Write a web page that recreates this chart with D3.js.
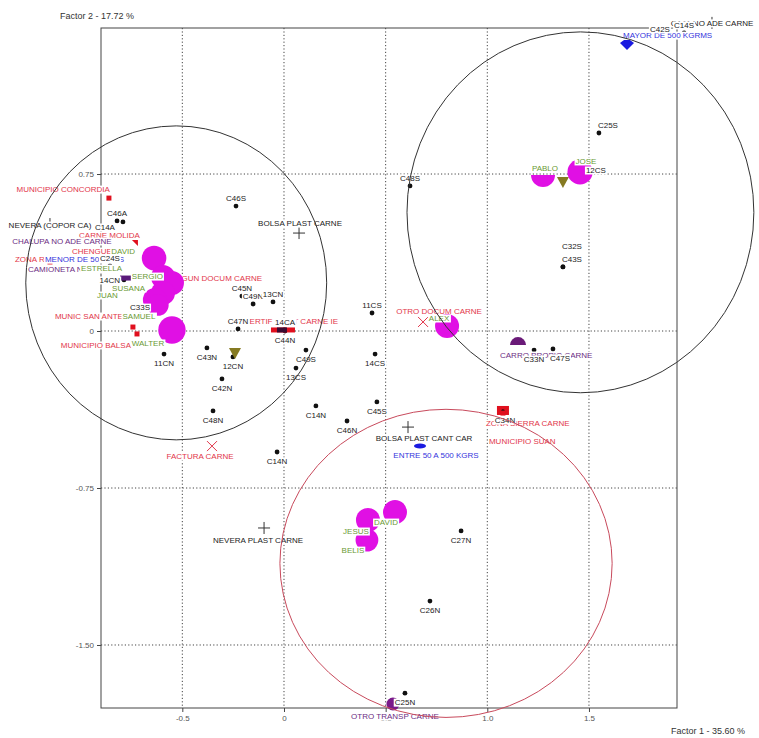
<!DOCTYPE html>
<html><head><meta charset="utf-8">
<script src="https://cdn.jsdelivr.net/npm/d3@7"></script>
<style>
html,body{margin:0;padding:0;background:#fff;}
svg{display:block;font-family:"Liberation Sans",Arial,sans-serif;}
</style></head><body>
<svg id="chart" width="759" height="738"></svg>
<script>
// ---------------- DATA ----------------
const xTicks = [-0.5, 0, 0.5, 1.0, 1.5];
const xTickLabels = ["-0.5", "0", "0.5", "1.0", "1.5"];
const yTicks = [0.75, 0, -0.75, -1.5];
const yTickLabels = ["0.75", "0", "-0.75", "-1.50"];
const axisTitleX = "Factor 1  -  35.60 %";
const axisTitleY = "Factor 2  -  17.72 %";

// supplementary points (black dots): name, F1, F2
const dotPoints = [
  ["C46S", -0.236, 0.597], ["C46A", -0.821, 0.526], ["C14A", -0.792, 0.521],
  ["C24S", -0.856, 0.311], ["14CN", -0.787, 0.244], ["C33S", -0.708, 0.076],
  ["11CN", -0.590, -0.110], ["C45N", -0.207, 0.167], ["C49N", -0.152, 0.129],
  ["13CN", -0.054, 0.139], ["C47N", -0.226, 0.010], ["14CA", 0.005, 0.005],
  ["C44N", 0.005, 0.000], ["C43N", -0.379, -0.081], ["12CN", -0.251, -0.124],
  ["C42N", -0.305, -0.229], ["C48N", -0.349, -0.382], ["C49S", 0.108, -0.091],
  ["13CS", 0.059, -0.177], ["14CS", 0.448, -0.110], ["11CS", 0.433, 0.086],
  ["C45S", 0.457, -0.339], ["C14N", 0.157, -0.358], ["C46N", 0.310, -0.430],
  ["C14N", -0.034, -0.578], ["C27N", 0.871, -0.955], ["C26N", 0.718, -1.290],
  ["C25N", 0.595, -1.730], ["C48S", 0.620, 0.693], ["C25S", 1.549, 0.946],
  ["12CS", 1.490, 0.731], ["C43S", 1.372, 0.306], ["C32S", 1.372, 0.306],
  ["C34N", 1.087, -0.382], ["C33N", 1.230, -0.091], ["C47S", 1.323, -0.086],
  ["C42S", 1.849, 1.405], ["C14S", 1.968, 1.424]
];
const dotLabelSide = ["n","n","sw","n","w","n","s","n","n","n","n","n","s","s","s","s","s","s",
  "s","s","n","s","s","s","s","s","s","s","n","ne","ne","ne","ne2","s","s","se","n","n"];

// active categories: name, F1, F2
const redCategories = [
  ["MUNICIPIO CONCORDIA", -0.861, 0.635], ["CARNE MOLIDA", -0.733, 0.420],
  ["CHENGUE CAR", -0.797, 0.382], ["ZONA RURAL CARNE", -1.151, 0.330],
  ["MUNIC SAN ANTERO", -0.743, 0.019], ["MUNICIPIO BALSA", -0.723, -0.014],
  ["NINGUN DOCUM CARNE", -0.521, 0.239], ["CERTIF SANIT CARNE IE", -0.005, 0.005],
  ["OTRO DOCUM CARNE", 0.684, 0.048], ["FACTURA CARNE", -0.354, -0.545],
  ["ZONA SIERRA CARNE", 1.077, -0.382], ["MUNICIPIO SUAN", 1.077, -0.392]
];
const purpleCategories = [
  ["CHALUPA NO ADE CARNE", -1.092, 0.430], ["CAMIONETA NO ADE", -0.777, 0.253],
  ["CARRO PROPIO CARNE", 1.151, -0.067], ["OTRO TRANSP CARNE", 0.536, -1.782]
];
const blueCategories = [
  ["MAYOR DE 500 KGRMS", 1.687, 1.366], ["ENTRE 50 A 500 KGRS", 0.669, -0.549],
  ["MENOR DE 50 KGRS", -1.053, 0.344]
];
const packCategories = [
  ["NEVERA (COPOR CA)", -1.151, 0.511], ["BOLSA PLAST CARNE", 0.074, 0.468],
  ["BOLSA PLAST CANT CAR", 0.610, -0.459], ["NEVERA PLAST CARNE", -0.098, -0.941],
  ["CAJA NO ADE CARNE", 2.105, 1.472]
];
const oliveCategories = [["", -0.241, -0.105], ["", 1.372, 0.712]];

// individuals (magenta): name, F1, F2, weight
const persons = [
  ["DAVID", -0.639, 0.349, 1.05], ["ESTRELLA", -0.595, 0.258, 1.0], ["SERGIO", -0.551, 0.229, 1.0],
  ["SUSANA", -0.595, 0.182, 1.0], ["JUAN", -0.635, 0.148, 1.0], ["SAMUEL", -0.620, 0.124, 0.8],
  ["WALTER", -0.551, 0.005, 1.3], ["ALEX", 0.802, 0.024, 1.0], ["PABLO", 1.274, 0.745, 1.0],
  ["JOSE", 1.456, 0.760, 1.1], ["DAVID", 0.546, -0.865, 1.0], ["JESUS", 0.413, -0.903, 1.0],
  ["BELIS", 0.408, -0.999, 0.9]
];

// cluster ellipses: centre F1, centre F2, radius F1, radius F2
const clusters = [[-0.53, 0.23, 0.74, 0.75], [1.458, 0.567, 0.853, 0.862], [0.797, -1.11, 0.817, 0.736]];

// ---------------- LAYOUT / STYLE ----------------
const svg = d3.select("#chart");
const x = d3.scaleLinear().domain([-0.9, 1.933]).range([101, 677]);
const y = d3.scaleLinear().domain([-1.801, 1.4476]).range([708, 28]);
const FS = 8;
const C = {red: "#e2364a", redMk: "#e0101e", purple: "#6b2d83", blue: "#3434dc", green: "#6a9a34",
  magenta: "#e010e4", olive: "#857a22", text: "#222"};

const sideOff = {n: [0, -5, "middle"], s: [0, 12, "middle"], w: [-4, 3, "end"], sw: [-8, 8, "end"],
  ne: [-1, -5, "start"], ne2: [-1, -18, "start"], se: [-3, 12, "start"]};
const redNudge = [[1,-6,"end"],[5,-5,"end"],[-50,3,"start"],[-35,0,"start"],[2,-8,"end"],[-6,14,"end"],
  [84,0,"end"],[8,-6,"middle"],[16,-7,"middle"],[-12,14,"middle"],[-17,15,"start"],[-14,31,"start"]];
const redKind = ["sq","flag","sq","sq","sq","sq","sq","bar","y","y","big","sq"];
const purpleNudge = [[0,3,"middle"],[-98,-6,"start"],[-18,13,"start"],[2,15,"middle"]];
const purpleKind = ["rect","rect","half","disc"];
const blueNudge = [[-4,-7,"start"],[16,12,"middle"],[-25,3,"start"]];
const blueKind = ["diamond","ellipse","ellipse"];
const packNudge = [[0,4,"middle"],[1,-7,"middle"],[16,14,"middle"],[-6,15,"middle"],[0,3,"middle"]];
const personNudge = [[-19,-4,"end"],[-41,-6,"end"],[-9,-4,"end"],[-18,-2,"end"],[-37,-2,"end"],
  [-19,14,"middle"],[-24,16,"middle"],[-8,-5,"middle"],[2,-4,"middle"],[6,-8,"middle"],
  [-9,13,"middle"],[-12,14,"middle"],[-14,13,"middle"]];
const personSpan = [[0,1],[0,1],[0,1],[0,1],[0,1],[0,1],[0,1],[0,1],[0.25,0.75],[0,1],[0,1],[0,1],[0,1]];

// grid
const [X0, X1] = x.range(), [Y0, Y1] = [28, 708];
const grid = svg.append("g").attr("stroke", "#444").attr("stroke-width", 1).attr("stroke-dasharray", "1.2,2.2");
grid.selectAll("line.v").data(xTicks).join("line").attr("x1", d => x(d)).attr("x2", d => x(d)).attr("y1", Y0).attr("y2", Y1);
grid.selectAll("line.h").data(yTicks).join("line").attr("y1", d => y(d)).attr("y2", d => y(d)).attr("x1", X0).attr("x2", X1);

// frame
svg.append("rect").attr("x", X0).attr("y", Y0).attr("width", X1 - X0).attr("height", Y1 - Y0)
  .attr("fill", "none").attr("stroke", "#444").attr("stroke-width", 1);

// axes
const ax = svg.append("g").attr("transform", `translate(0,${Y1})`)
  .call(d3.axisBottom(x).tickValues(xTicks).tickFormat((d, i) => xTickLabels[i]).tickSize(4).tickPadding(3));
const ay = svg.append("g").attr("transform", `translate(${X0},0)`)
  .call(d3.axisLeft(y).tickValues(yTicks).tickFormat((d, i) => yTickLabels[i]).tickSize(4).tickPadding(3));
[ax, ay].forEach(a => {
  a.select(".domain").remove();
  a.selectAll("line").attr("stroke", "#444");
  a.selectAll("text").attr("font-size", FS).attr("fill", "#555").attr("font-family", "Liberation Sans, Arial, sans-serif");
});

// markers
const mk = svg.append("g");
dotPoints.forEach(d => mk.append("circle").attr("cx", x(d[1])).attr("cy", y(d[2])).attr("r", 2.4).attr("fill", "#111"));

function cross(px, py, s, color) {
  mk.append("path").attr("d", `M${px - s},${py}H${px + s}M${px},${py - s}V${py + s}`).attr("stroke", color).attr("stroke-width", 1).attr("fill", "none");
}
packCategories.forEach(d => cross(x(d[1]), y(d[2]), 6, "#333"));
redCategories.forEach((d, i) => {
  const px = x(d[1]), py = y(d[2]), k = redKind[i];
  if (k === "sq") mk.append("rect").attr("x", px - 2.5).attr("y", py - 2.5).attr("width", 5).attr("height", 5).attr("fill", C.redMk);
  if (k === "flag") mk.append("path").attr("d", `M${px - 3},${py - 3}H${px + 3}V${py + 3}Z`).attr("fill", C.redMk);
  if (k === "big") { mk.append("rect").attr("x", px - 6).attr("y", py - 5).attr("width", 12).attr("height", 9).attr("fill", C.redMk);
    mk.append("circle").attr("cx", px).attr("cy", py).attr("r", 1.8).attr("fill", "#111"); }
  if (k === "bar") { mk.append("rect").attr("x", px - 12).attr("y", py - 2.5).attr("width", 24).attr("height", 5).attr("fill", C.redMk);
    mk.append("rect").attr("x", px - 6).attr("y", py - 2.5).attr("width", 10).attr("height", 5).attr("fill", "#3a0a30"); }
  if (k === "y") mk.append("path").attr("d", `M${px - 5},${py - 4}L${px},${py + 1}L${px + 5},${py - 4}M${px},${py + 1}L${px - 5},${py + 6}M${px},${py + 1}L${px + 5},${py + 6}`)
    .attr("stroke", C.red).attr("stroke-width", 1).attr("fill", "none");
});
purpleCategories.forEach((d, i) => {
  const px = x(d[1]), py = y(d[2]), k = purpleKind[i];
  if (k === "rect") mk.append("rect").attr("x", px - 6).attr("y", py - 2.5).attr("width", 11).attr("height", 5).attr("fill", "#5a1a7a");
  if (k === "half") mk.append("path").attr("d", d3.arc()({innerRadius: 0, outerRadius: 8, startAngle: -Math.PI / 2, endAngle: Math.PI / 2})).attr("transform", `translate(${px},${py})`).attr("fill", "#6a1a78");
  if (k === "disc") mk.append("circle").attr("cx", px).attr("cy", py).attr("r", 6.5).attr("fill", "#7a1a8a");
});
blueCategories.forEach((d, i) => {
  const px = x(d[1]), py = y(d[2]), k = blueKind[i];
  if (k === "diamond") mk.append("path").attr("d", `M${px - 7},${py - 2}L${px - 3},${py - 5}H${px + 3}L${px + 7},${py - 2}L${px},${py + 5}Z`).attr("fill", "#1a1ae0");
  if (k === "ellipse") mk.append("ellipse").attr("cx", px).attr("cy", py).attr("rx", 6).attr("ry", 2.5).attr("fill", "#1a1ae0");
});
oliveCategories.forEach(d => {
  const px = x(d[1]), py = y(d[2]);
  mk.append("path").attr("d", `M${px - 6},${py - 5}H${px + 6}L${px},${py + 6}Z`).attr("fill", C.olive);
});

// labels with white boxes
function label(g, px, py, text, color, anchor) {
  if (!text) return;
  const gg = g.append("g");
  const t = gg.append("text").attr("x", px).attr("y", py).attr("text-anchor", anchor)
    .attr("font-size", FS).attr("fill", color).text(text);
  const b = t.node().getBBox();
  gg.insert("rect", "text").attr("x", b.x - 1).attr("y", b.y + 0.5).attr("width", b.width + 2).attr("height", b.height - 1).attr("fill", "#fff");
}
const catLabels = svg.append("g");
function catGroup(arr, nudge, color) {
  arr.forEach((d, i) => { const n = nudge[i]; label(catLabels, x(d[1]) + n[0], y(d[2]) + n[1], d[0], color, n[2]); });
}
catGroup(redCategories, redNudge, C.red);
catGroup(purpleCategories, purpleNudge, C.purple);
catGroup(blueCategories, blueNudge, C.blue);
catGroup(packCategories, packNudge, C.text);

// individuals (magenta sectors)
const rScale = d3.scaleSqrt().domain([0, 1]).range([0, 12]);
const arcGen = d3.arc().innerRadius(0);
const blobs = svg.append("g");
persons.forEach((d, i) => {
  const sp = personSpan[i];
  blobs.append("path").attr("transform", `translate(${x(d[1])},${y(d[2])})`)
    .attr("d", arcGen({outerRadius: rScale(d[3]), startAngle: sp[0] * 2 * Math.PI, endAngle: sp[1] * 2 * Math.PI}))
    .attr("fill", C.magenta);
});

// dot labels
const dotLabels = svg.append("g");
dotPoints.forEach((d, i) => { const o = sideOff[dotLabelSide[i]]; label(dotLabels, x(d[1]) + o[0], y(d[2]) + o[1], d[0], C.text, o[2]); });

// person labels
const personLabels = svg.append("g");
persons.forEach((d, i) => { const n = personNudge[i]; label(personLabels, x(d[1]) + n[0], y(d[2]) + n[1], d[0], C.green, n[2]); });

// cluster ellipses
const clColors = ["#333", "#333", "#c84a5c"];
svg.append("g").selectAll("ellipse").data(clusters).join("ellipse")
  .attr("cx", d => x(d[0])).attr("cy", d => y(d[1]))
  .attr("rx", d => x(d[2]) - x(0)).attr("ry", d => y(0) - y(d[3]))
  .attr("fill", "none").attr("stroke", (d, i) => clColors[i]).attr("stroke-width", 1);

// titles
svg.append("text").attr("x", 60).attr("y", 19).attr("font-size", 9).attr("fill", "#333").text(axisTitleY);
svg.append("text").attr("x", 745).attr("y", 734).attr("text-anchor", "end").attr("font-size", 9).attr("fill", "#333").text(axisTitleX);
</script>
</body></html>
